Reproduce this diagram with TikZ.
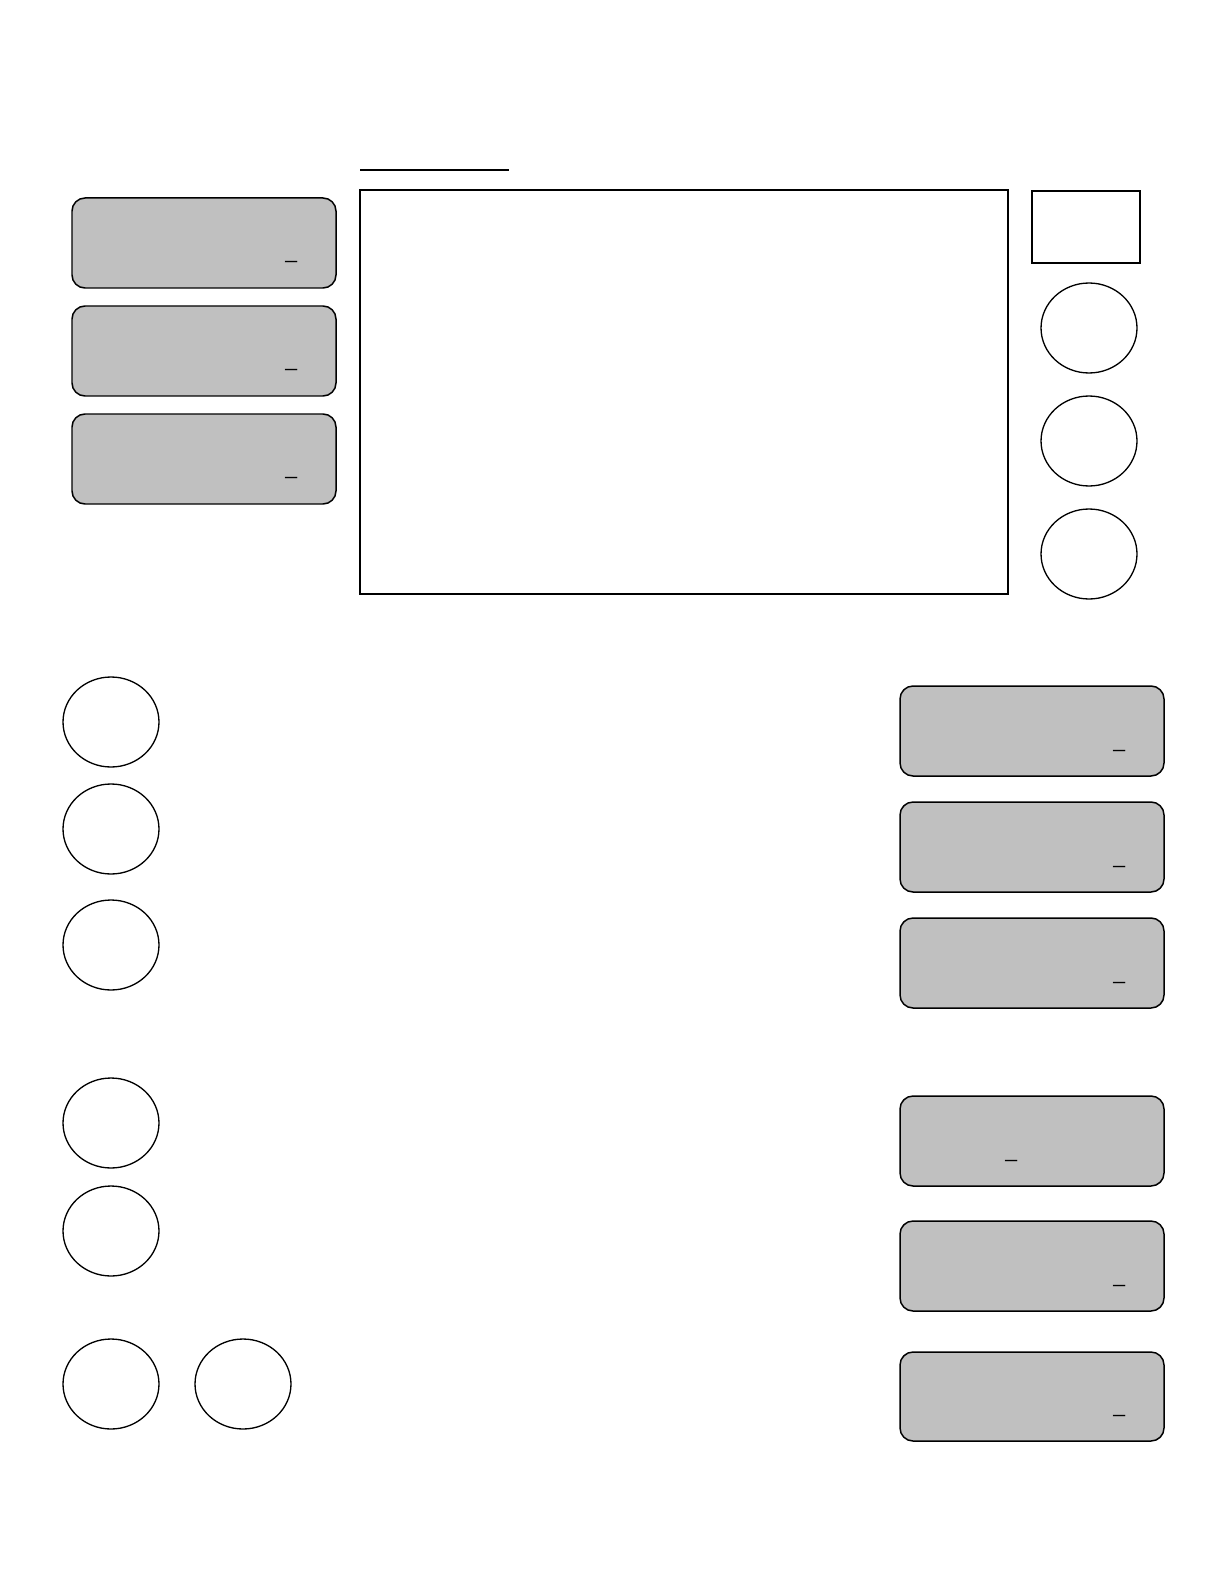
\documentclass[tikz,border=0pt]{standalone}
\usepackage{xcolor}
\usepackage{fontspec}
\newfontfamily\formfont{Liberation Sans}
\definecolor{fieldgray}{HTML}{C0C0C0}

\begin{document}
\begin{tikzpicture}[x=0.02cm, y=-0.02cm]
            \tikzstyle{field} = [draw, line width=0.85pt, fill=fieldgray, rounded corners=0.26cm]
            \tikzstyle{frame} = [line width=1.1pt]
            \tikzstyle{knob} = [line width=0.75pt]
            \tikzstyle{blank} = [font=\formfont\fontsize{12}{14}\selectfont, inner sep=0pt, anchor=base west]
            \useasboundingbox (0, 0) rectangle (1224, 1584);
            % top: title rule, screen, indicator
            \draw[frame] (360, 170) -- (509, 170);
            \draw[frame] (360, 190) rectangle (1008, 594);
            \draw[frame] (1032, 191) rectangle (1140, 263);
            % left fields
            \draw[field] (72, 198) rectangle ++(264, 90);
            \draw[field] (72, 306) rectangle ++(264, 90);
            \draw[field] (72, 414) rectangle ++(264, 90);
            \node[blank] (blankA) at (285, 258.5) {\_};
            \node[blank] (blankB) at (285, 366.5) {\_};
            \node[blank] (blankC) at (285, 474.5) {\_};
            % right knobs
            \draw[knob] (1089, 328) circle[x radius=0.96cm, y radius=0.9cm];
            \draw[knob] (1089, 441) circle[x radius=0.96cm, y radius=0.9cm];
            \draw[knob] (1089, 554) circle[x radius=0.96cm, y radius=0.9cm];
            % lower left knobs
            \draw[knob] (111, 722) circle[x radius=0.96cm, y radius=0.9cm];
            \draw[knob] (111, 829) circle[x radius=0.96cm, y radius=0.9cm];
            \draw[knob] (111, 945) circle[x radius=0.96cm, y radius=0.9cm];
            \draw[knob] (111, 1123) circle[x radius=0.96cm, y radius=0.9cm];
            \draw[knob] (111, 1231) circle[x radius=0.96cm, y radius=0.9cm];
            \draw[knob] (111, 1384) circle[x radius=0.96cm, y radius=0.9cm];
            \draw[knob] (243, 1384) circle[x radius=0.96cm, y radius=0.9cm];
            % lower right fields
            \draw[field] (900, 686) rectangle ++(264, 90);
            \draw[field] (900, 802) rectangle ++(264, 90);
            \draw[field] (900, 918) rectangle ++(264, 90);
            \draw[field] (900, 1096) rectangle ++(264, 90);
            \draw[field] (900, 1221) rectangle ++(264, 90);
            \draw[field] (900, 1352) rectangle ++(264, 89);
            \node[blank] (blankD) at (1113, 747.5) {\_};
            \node[blank] (blankE) at (1113, 863.5) {\_};
            \node[blank] (blankF) at (1113, 979.5) {\_};
            \node[blank] (blankG) at (1005, 1157.5) {\_};
            \node[blank] (blankH) at (1113, 1282.5) {\_};
            \node[blank] (blankI) at (1113, 1412.5) {\_};
        \end{tikzpicture}
\end{document}
